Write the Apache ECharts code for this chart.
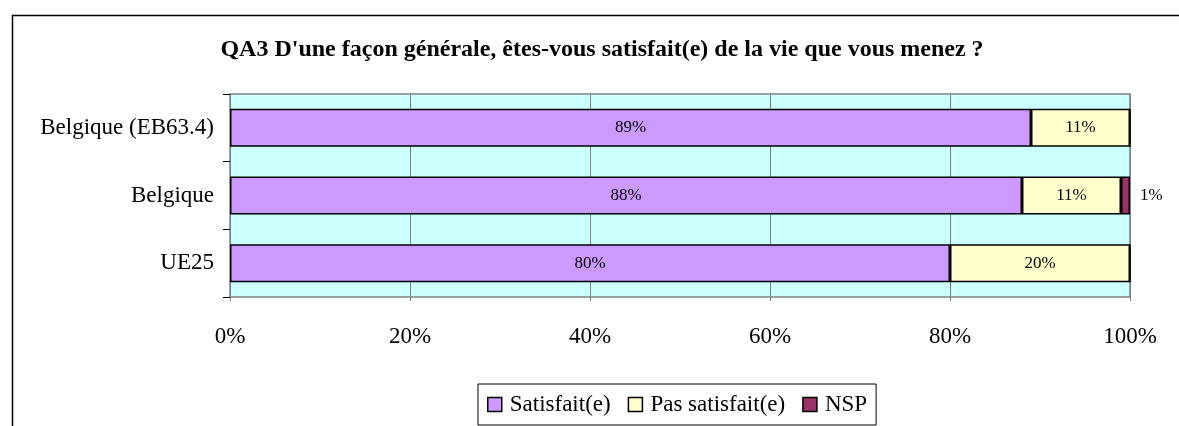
<!DOCTYPE html>
<html><head><meta charset="utf-8">
<script src="https://cdn.jsdelivr.net/npm/echarts@6/dist/echarts.min.js"></script>
<style>html,body{margin:0;padding:0;background:#fff}#c{width:1179px;height:426px}</style>
</head><body><div id="c"></div>
<script>
const categories = ['Belgique (EB63.4)', 'Belgique', 'UE25'];
const satisfait = [89, 88, 80];
const pasSatisfait = [11, 11, 20];
const nsp = [0, 1, 0];

const chart = echarts.init(document.getElementById('c'));
const font = '"Liberation Serif", "Times New Roman", serif';
const labelFmt = p => p.value > 0 ? p.value + '%' : '';
function mk(name, data, color, pos, dist) {
  return {
    name, type: 'bar', stack: 's', data, barWidth: 38,
    itemStyle: { color, borderColor: '#000', borderWidth: 1.5 },
    label: { show: true, position: pos || 'inside', distance: dist || 5, formatter: labelFmt, color: '#000', fontFamily: font, fontSize: 17 }
  };
}
chart.setOption({
  animation: false,
  textStyle: { fontFamily: font },
  title: {
    text: "QA3 D'une façon générale, êtes-vous satisfait(e) de la vie que vous menez ?",
    left: 597, top: 33, textAlign: 'center',
    textStyle: { fontFamily: font, fontSize: 24, fontWeight: 'bold', color: '#000' }
  },
  graphic: [{ type: 'rect', left: 10, top: 13, shape: { width: 1300, height: 600 }, style: { fill: 'none', stroke: '#000', lineWidth: 1.5 }, silent: true }],
  grid: { left: 230, right: 49, top: 94, bottom: 129, show: true, backgroundColor: '#CCFFFF', borderColor: '#808080', borderWidth: 1.5 },
  legend: {
    bottom: 1, left: 478,
    data: ['Satisfait(e)', 'Pas satisfait(e)', 'NSP'],
    icon: 'rect', itemWidth: 14, itemHeight: 14, itemGap: 17,
    borderColor: '#000', borderWidth: 1, padding: [9, 9, 9, 9],
    itemStyle: { borderColor: '#000', borderWidth: 1.5 },
    textStyle: { fontFamily: font, fontSize: 23, color: '#000', padding: [0, 0, 0, 3] }
  },
  xAxis: {
    type: 'value', min: 0, max: 100, interval: 20,
    axisLine: { show: false },
    axisTick: { show: true, length: 4, lineStyle: { color: '#808080' } },
    splitLine: { show: true, lineStyle: { color: '#808080', width: 1 } },
    axisLabel: { formatter: v => v + '%', fontFamily: font, fontSize: 23, color: '#000', margin: 28 }
  },
  yAxis: {
    type: 'category', data: categories, inverse: true,
    axisLine: { show: false },
    axisTick: { show: true, length: 7, lineStyle: { color: '#000' } },
    axisLabel: { fontFamily: font, fontSize: 23, color: '#000', margin: 16 }
  },
  series: [
    mk('Satisfait(e)', satisfait, '#CC99FF'),
    mk('Pas satisfait(e)', pasSatisfait, '#FFFFCC'),
    mk('NSP', nsp, '#993366', 'right', 10)
  ]
});
</script></body></html>
